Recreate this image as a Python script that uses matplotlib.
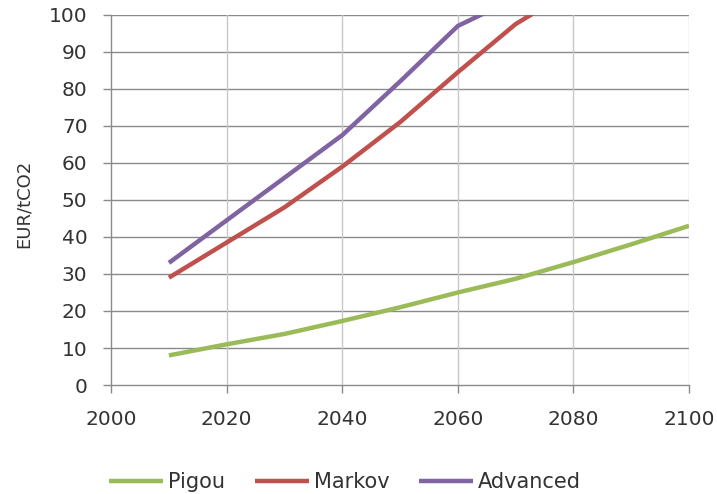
import matplotlib.pyplot as plt

years = [2010, 2020, 2030, 2040, 2050, 2060, 2070, 2080, 2090, 2100]
pigou = [8, 11, 13.8, 17.3, 21, 25, 28.7, 33.2, 38, 43]
years_markov = [2010, 2020, 2030, 2040, 2050, 2060, 2070, 2080]
markov = [29, 38.5, 48, 59, 71, 84.5, 97.5, 107]
years_adv = [2010, 2020, 2030, 2040, 2050, 2060, 2070]
advanced = [33, 44.5, 56, 67.5, 82, 97, 104.5]

fig = plt.figure(figsize=(7.17, 4.94), dpi=100)
ax = fig.add_axes([0.155, 0.2206, 0.806, 0.7494])

ax.plot(years, pigou, color='#9BBB59', lw=3.2, label='Pigou', solid_capstyle='butt')
ax.plot(years_markov, markov, color='#C0504D', lw=3.2, label='Markov', solid_capstyle='butt')
ax.plot(years_adv, advanced, color='#8064A2', lw=3.2, label='Advanced', solid_capstyle='butt')

ax.set_xlim(2000, 2100)
ax.set_ylim(0, 100)
ax.set_xticks(range(2000, 2101, 20))
ax.set_yticks(range(0, 101, 10))

for y in range(10, 101, 10):
    ax.axhline(y, color='#8a8a8a', lw=1.0, zorder=0)
for x in range(2020, 2101, 20):
    ax.axvline(x, color='#c8c8c8', lw=1.0, zorder=0)

for s in ['top', 'right']:
    ax.spines[s].set_visible(False)
for s in ['left', 'bottom']:
    ax.spines[s].set_color('#8a8a8a')
    ax.spines[s].set_linewidth(1.0)

ax.tick_params(axis='both', colors='#8a8a8a', labelcolor='#333333',
               labelsize=14.5, length=6, width=1.0)
ax.tick_params(axis='x', pad=12)
ax.tick_params(axis='y', pad=11)
ax.set_ylabel('EUR/tCO2', fontsize=13, color='#333333')
ax.yaxis.set_label_coords(-0.136, 0.49)

ax.legend(loc='center', bbox_to_anchor=(345 / 717, 1 - 482 / 494),
          bbox_transform=fig.transFigure, ncol=3, frameon=False,
          fontsize=15, handlelength=2.6, handletextpad=0.25, columnspacing=1.4,
          labelcolor='#333333', borderpad=0)

fig.savefig('out.png', dpi=100)
